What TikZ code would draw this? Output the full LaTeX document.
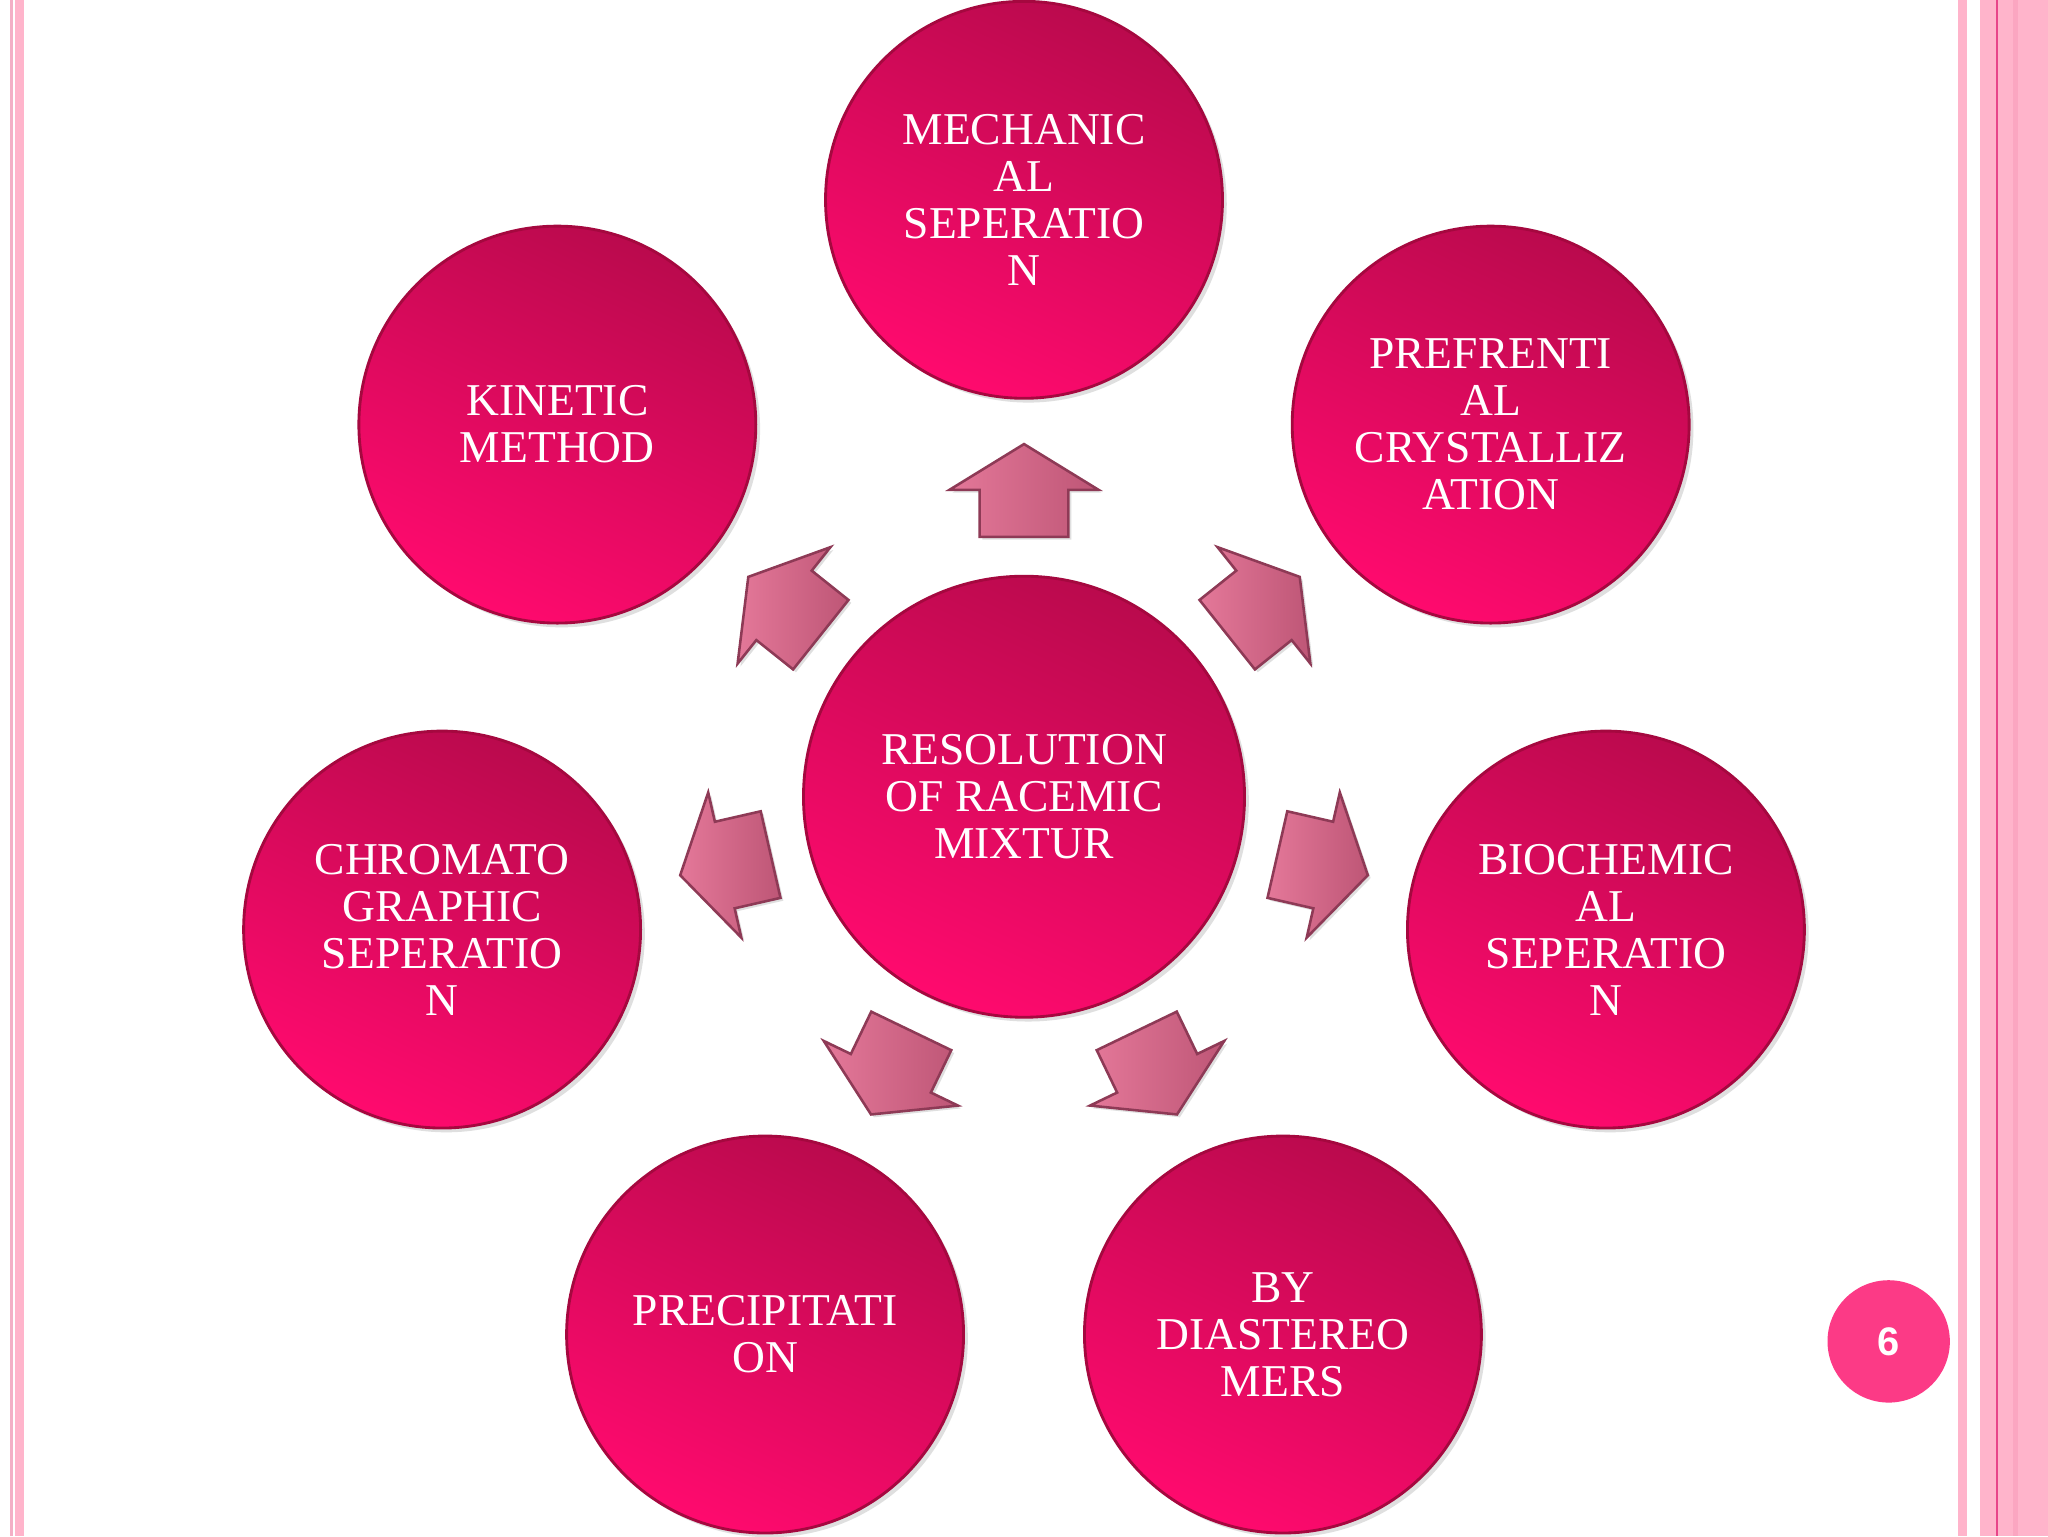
\documentclass[tikz,border=0pt]{standalone}
\usepackage{fontspec}
\setmainfont{Liberation Serif}
\newfontfamily\numfont{Liberation Sans}
\usetikzlibrary{calc,shadows}
\definecolor{balltop}{HTML}{BA0A4D}
\definecolor{ballbot}{HTML}{FF0A6E}
\definecolor{ballrim}{HTML}{A5083F}
\definecolor{arrowlight}{HTML}{E47899}
\definecolor{arrowdark}{HTML}{BE5676}
\definecolor{arrowedge}{HTML}{8E3A56}
\definecolor{borderpink}{HTML}{FFB4CB}
\definecolor{borderthin}{HTML}{F3AFC6}
\definecolor{borderdark}{HTML}{E8458A}
\definecolor{bordermid}{HTML}{FBA6C1}
\definecolor{pagenum}{HTML}{FC3A86}
\tikzset{
  ball/.style={circle, inner sep=0pt, minimum size=139.5pt,
    top color=balltop, bottom color=ballbot, shading angle=-25,
    draw=ballrim, line width=1pt, text=white, align=center,
    font=\fontsize{16}{16.5}\selectfont,
    drop shadow={shadow xshift=1.5pt, shadow yshift=-1.5pt, opacity=0.25}},
  bigball/.style={ball, minimum size=155pt},
  blockarrow/.style={left color=arrowlight, right color=arrowdark,
    draw=arrowedge, line width=0.9pt, line join=miter,
    drop shadow={shadow xshift=1pt, shadow yshift=-1pt, opacity=0.25}},
  pagebadge/.style={circle, inner sep=0pt, minimum size=43pt, fill=pagenum,
    text=white, font=\numfont\bfseries\fontsize{14}{16}\selectfont}
}
\begin{document}
\begin{tikzpicture}[x=0.459pt,y=0.459pt]
\useasboundingbox (0,0) rectangle (1568,1176);
\fill[white] (0,0) rectangle (1568,1176);
% side borders
\fill[borderthin] (7.7,0) rectangle (9.7,1176);
\fill[borderpink] (11.7,0) rectangle (18.4,1176);
\fill[borderpink] (1499,0) rectangle (1506,1176);
\fill[borderpink] (1516,0) rectangle (1568,1176);
\fill[bordermid] (1541,0) rectangle (1545,1176);
\fill[borderdark] (1528.5,0) rectangle (1530,1176);

% central circle
\node[bigball] (c0) at (784,566) {RESOLUTION\\OF RACEMIC\\MIXTUR};

% surrounding circles
\node[ball] (c1) at ($(c0.center)+(90:457)$) {MECHANIC\\AL\\SEPERATIO\\N};
\node[ball] (c2) at ($(c0.center)+(141.43:457)$) {KINETIC\\METHOD};
\node[ball] (c3) at ($(c0.center)+(192.86:457)$) {CHROMATO\\GRAPHIC\\SEPERATIO\\N};
\node[ball] (c4) at ($(c0.center)+(244.29:457)$) {PRECIPITATI\\ON};
\node[ball] (c5) at ($(c0.center)+(295.71:457)$) {BY\\DIASTEREO\\MERS};
\node[ball] (c6) at ($(c0.center)+(347.14:457)$) {BIOCHEMIC\\AL\\SEPERATIO\\N};
\node[ball] (c7) at ($(c0.center)+(38.57:457)$) {PREFRENTI\\AL\\CRYSTALLIZ\\ATION};

% block arrows from centre towards each circle
\foreach \a in {90,141.43,192.86,244.29,295.71,347.14,38.57}{
  \begin{scope}[shift={(c0.center)}, rotate=\a]
    \path[blockarrow] (199,-34) -- (235,-34) -- (235,-57) -- (270,0)
      -- (235,57) -- (235,34) -- (199,34) -- cycle;
  \end{scope}
}

% page number
\node[pagebadge] (pg) at (1446,149) {6};
\end{tikzpicture}
\end{document}
